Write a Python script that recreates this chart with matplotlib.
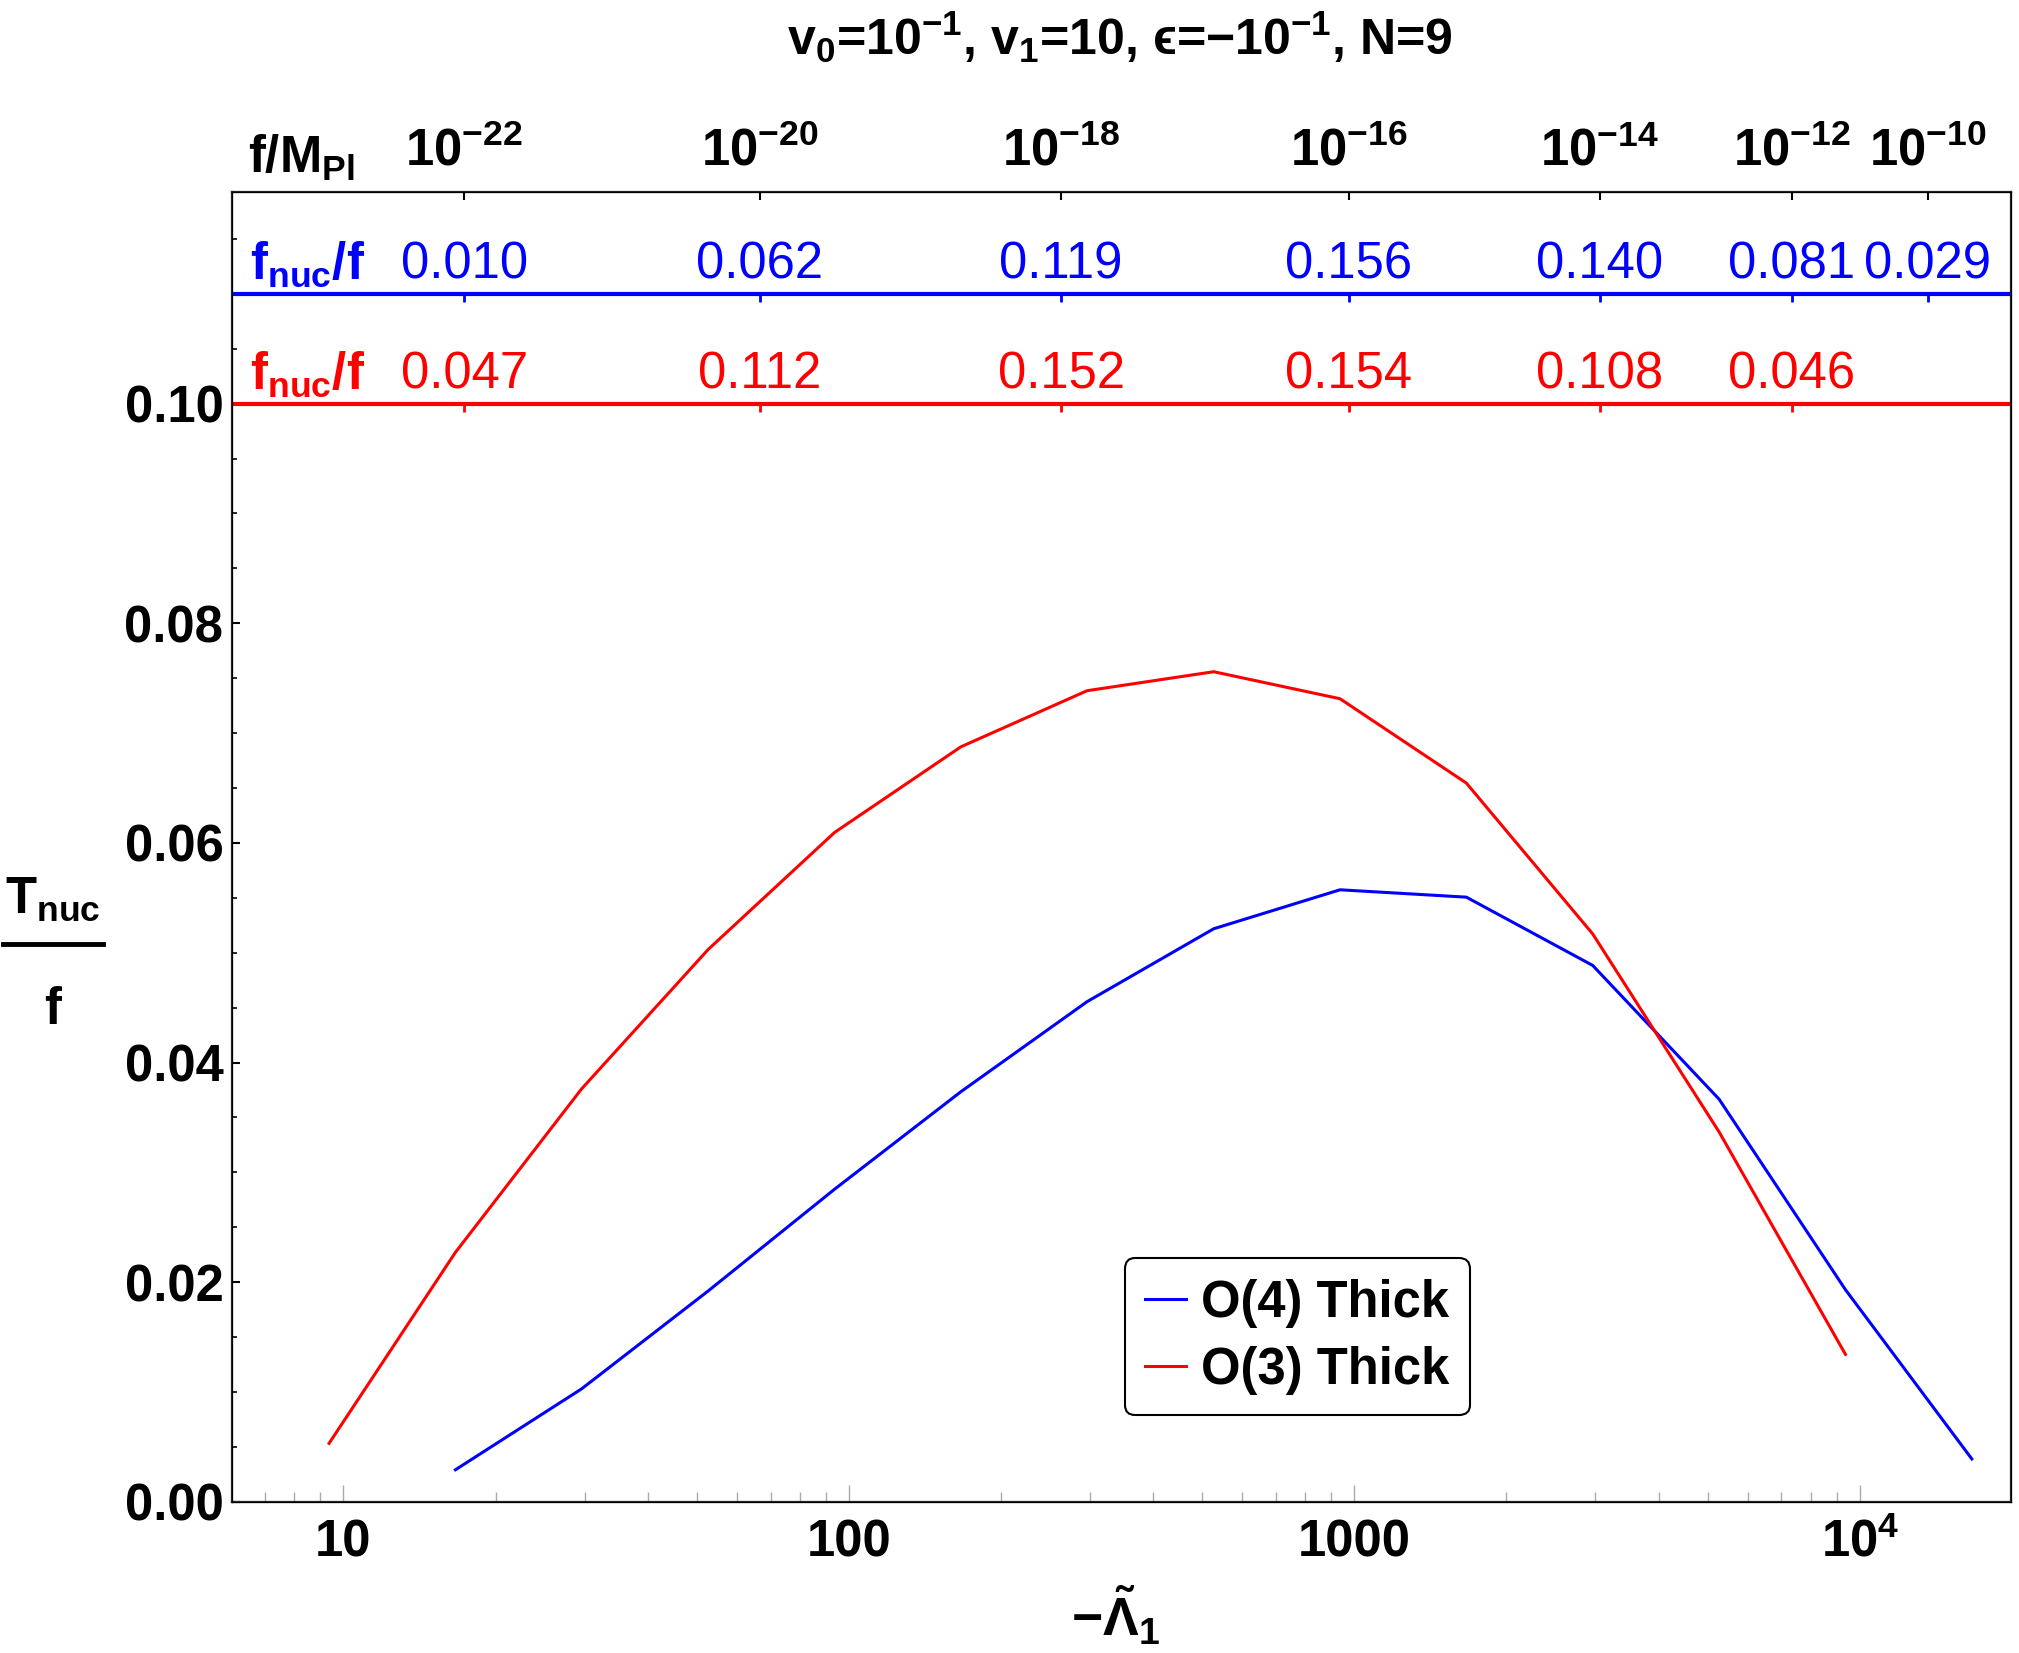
import matplotlib
matplotlib.use("Agg")
import matplotlib.pyplot as plt
from matplotlib.lines import Line2D
from matplotlib.ticker import LogLocator, NullLocator, MultipleLocator, FixedLocator, FixedFormatter

matplotlib.rcParams.update({
    "font.family": ["Liberation Sans", "DejaVu Sans"],
    "font.weight": "bold",
    "mathtext.fontset": "custom",
    "mathtext.rm": "Liberation Sans",
    "mathtext.bf": "Liberation Sans:bold",
    "mathtext.it": "Liberation Sans:italic",
    "mathtext.default": "bf",
    "mathtext.fallback": "stix",
})

# data
lam_o4 = [16.66, 29.6, 52.7, 93.7, 166.6, 296, 527, 937, 1666, 2963, 5269, 9370, 16660]
T_o4 = [0.00291, 0.01028, 0.01920, 0.02846, 0.03734, 0.04554, 0.05218,
        0.05573, 0.05506, 0.04884, 0.03666, 0.01931, 0.00390]
lam_o3 = [9.37, 16.66, 29.6, 52.7, 93.7, 166.6, 296, 527, 937, 1666, 2963, 5269, 9370]
T_o3 = [0.00532, 0.02271, 0.03760, 0.05030, 0.06095, 0.06875, 0.07386,
        0.07559, 0.07313, 0.06545, 0.05171, 0.03368, 0.01342]

# upper scale: f/M_Pl ticks placed on the -Lambda axis
top_pos = [17.33, 66.6, 263, 976, 3062, 7343, 13643]
top_labels = [r"$10^{-22}$", r"$10^{-20}$", r"$10^{-18}$", r"$10^{-16}$",
              r"$10^{-14}$", r"$10^{-12}$", r"$10^{-10}$"]
fnuc_o4 = ["0.010", "0.062", "0.119", "0.156", "0.140", "0.081", "0.029"]
fnuc_o3 = ["0.047", "0.112", "0.152", "0.154", "0.108", "0.046"]

bottom_ticks = [10, 100, 1000, 10000]
bottom_labels = ["10", "100", "1000", r"$10^4$"]

FS = 36.5
xmin, xmax = 6.015, 19910
ymin, ymax = 0.0, 0.1193

fig = plt.figure(figsize=(20.19, 16.53), dpi=100)
ax = fig.add_axes([0.1148, 0.0915, 0.8812, 0.7925])

ax.plot(lam_o4, T_o4, color="#0000ff", lw=2.2, label="O(4) Thick")
ax.plot(lam_o3, T_o3, color="#ff0000", lw=2.2, label="O(3) Thick")

ax.axhline(0.11, color="#0000ff", lw=3)
ax.axhline(0.10, color="#ff0000", lw=3)
tl = 0.00075
ax.vlines(top_pos, 0.11 - tl, 0.11, color="#0000ff", lw=2)
ax.vlines(top_pos[:len(fnuc_o3)], 0.10 - tl, 0.10, color="#ff0000", lw=2)

for x, s in zip(top_pos, fnuc_o4):
    ax.text(x, 0.1114, s, color="#0000ff", ha="center", va="baseline",
            fontsize=FS, fontweight="normal")
for x, s in zip(top_pos, fnuc_o3):
    ax.text(x, 0.1014, s, color="#ff0000", ha="center", va="baseline",
            fontsize=FS, fontweight="normal")
ax.text(6.55, 0.1114, r"$f_{nuc}/f$", color="#0000ff", ha="left", va="baseline", fontsize=FS)
ax.text(6.55, 0.1014, r"$f_{nuc}/f$", color="#ff0000", ha="left", va="baseline", fontsize=FS)
ax.text(6.48, 0.1210, r"$f/M_{Pl}$", ha="left", va="baseline", fontsize=FS, clip_on=False)

ax.set_xscale("log")
ax.set_xlim(xmin, xmax)
ax.set_ylim(ymin, ymax)
ax.xaxis.set_major_locator(FixedLocator(bottom_ticks))
ax.xaxis.set_major_formatter(FixedFormatter(bottom_labels))
ax.xaxis.set_minor_locator(LogLocator(base=10, subs=range(2, 10)))
ax.xaxis.set_minor_formatter(matplotlib.ticker.NullFormatter())
ax.yaxis.set_major_locator(MultipleLocator(0.02))
ax.yaxis.set_minor_locator(MultipleLocator(0.005))
ax.yaxis.set_major_formatter(matplotlib.ticker.FormatStrFormatter("%.2f"))

ax.tick_params(axis="x", which="major", direction="in", length=12, width=1, color="#aaaaaa",
               labelsize=FS, pad=12)
ax.tick_params(axis="x", which="minor", direction="in", length=7, width=1, color="#aaaaaa")
ax.tick_params(axis="y", which="major", direction="in", length=6, width=1.5, labelsize=FS, pad=6)
ax.tick_params(axis="y", which="minor", direction="in", length=3.5, width=1.2)
for sp in ax.spines.values():
    sp.set_linewidth(1.6)
    sp.set_color("#222222")

ax2 = ax.twiny()
ax2.set_xscale("log")
ax2.set_xlim(xmin, xmax)
ax2.xaxis.set_major_locator(FixedLocator(top_pos))
ax2.xaxis.set_major_formatter(FixedFormatter(top_labels))
ax2.xaxis.set_minor_locator(NullLocator())
ax2.tick_params(axis="x", direction="in", length=6, width=1.5, labelsize=FS, pad=11)

leg = ax.legend(loc="lower left", bbox_to_anchor=(0.502, 0.066), borderaxespad=0,
                prop={"weight": "bold", "size": FS}, handlelength=0.8, handletextpad=0.3,
                labelspacing=0.36, borderpad=0.4, fancybox=True, framealpha=1,
                edgecolor="black")
leg.get_frame().set_linewidth(1.5)

# title, axis labels
fig.text(0.5545, 1 - 55 / 1653, "$v_0$=10$^{-1}$, $v_1$=10, \u03f5=\u221210$^{-1}$, N=9",
         ha="center", va="baseline", fontsize=36)
fig.text(1116 / 2019, 1 - 1637 / 1653, r"$-\tilde{\Lambda}_1$", ha="center", va="baseline",
         fontsize=FS + 2)
fig.text(53 / 2019, 1 - 913 / 1653, r"$T_{nuc}$", ha="center", va="baseline", fontsize=FS)
fig.add_artist(Line2D([3 / 2019, 103 / 2019], [1 - 944.5 / 1653] * 2, lw=3.5, color="black"))
fig.text(53 / 2019, 1 - 1024 / 1653, "f", ha="center", va="baseline", fontsize=FS)

fig.savefig("out.png", dpi=100)
